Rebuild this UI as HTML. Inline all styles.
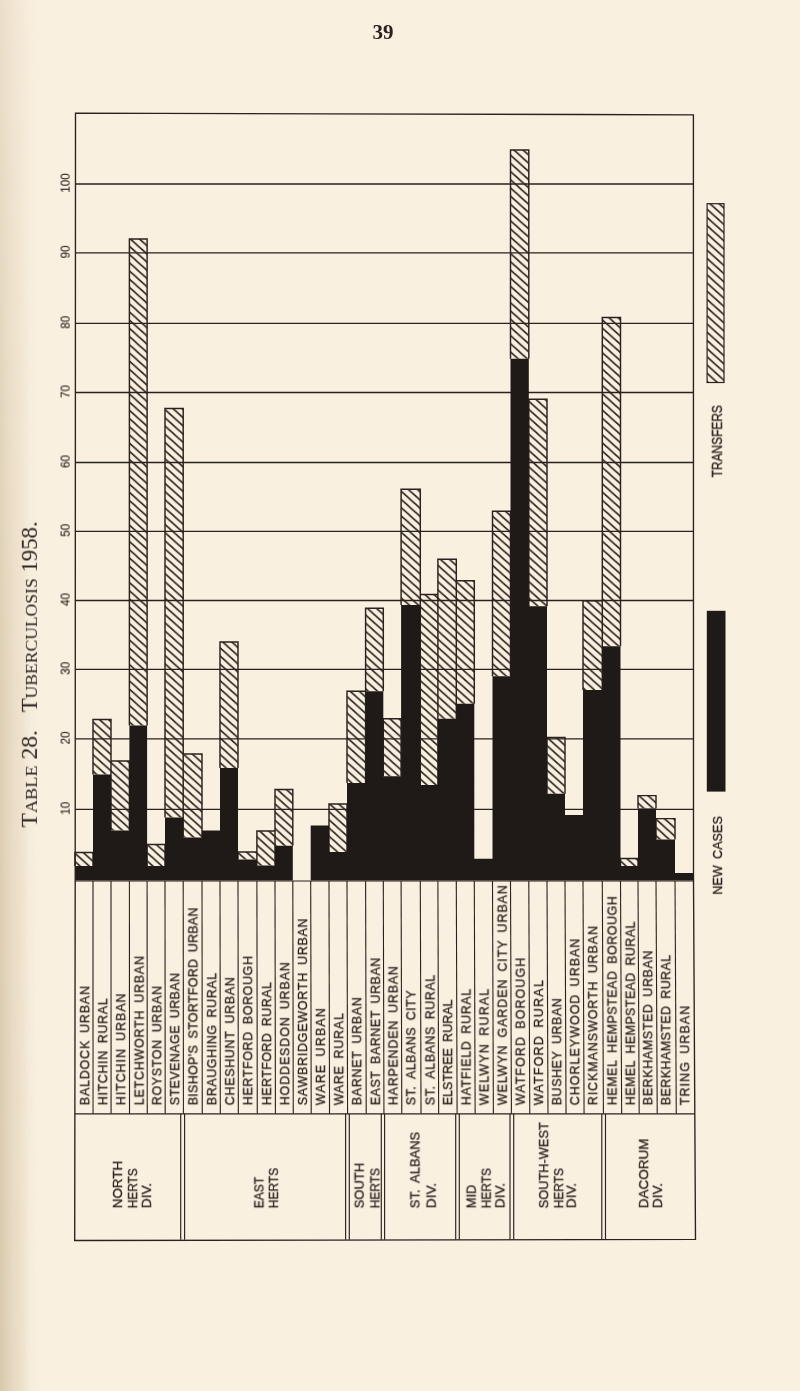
<!DOCTYPE html>
<html><head><meta charset="utf-8">
<style>
html,body{margin:0;padding:0;background:#f9f0e0;}
body{width:800px;height:1391px;overflow:hidden;}
svg{display:block;}
text{will-change:transform;}
.s{font-family:"Liberation Sans",sans-serif;stroke:#2a221e;stroke-width:0.3px;}
.r{font-family:"Liberation Serif",serif;}
</style></head><body>
<svg width="800" height="1391" viewBox="0 0 800 1391">
<defs>
<linearGradient id="edge" x1="0" x2="1" y1="0" y2="0">
<stop offset="0" stop-color="#d8c8ac"/>
<stop offset="0.3" stop-color="#e6d8c0"/>
<stop offset="0.6" stop-color="#efe3cf"/>
<stop offset="1" stop-color="#f9f0e0" stop-opacity="0"/>
</linearGradient>
<linearGradient id="vfade" x1="0" x2="0" y1="0" y2="1">
<stop offset="0" stop-color="#fff" stop-opacity="0.45"/>
<stop offset="0.5" stop-color="#fff" stop-opacity="0.85"/>
<stop offset="1" stop-color="#fff" stop-opacity="1"/>
</linearGradient>
<mask id="vm"><rect x="0" y="0" width="60" height="1391" fill="url(#vfade)"/></mask>
<pattern id="hatch" patternUnits="userSpaceOnUse" width="9.1" height="8.2" y="-1.5">
<path d="M-9.1,-8.2 L18.2,16.4 M-9.1,0 L9.1,16.4 M0,-8.2 L18.2,8.2" stroke="#2a221e" stroke-width="1.55" fill="none"/>
</pattern>
</defs>
<rect x="0" y="0" width="800" height="1391" fill="#f9f0e0"/>
<rect x="0" y="0" width="40" height="1391" fill="url(#edge)" mask="url(#vm)"/>

<text class="r" x="372.5" y="39" font-size="21" font-weight="bold" fill="#2a221e">39</text>
<g transform="translate(36.9,827.5) rotate(-90)" fill="#2a221e" class="r"><text x="0" y="0" font-size="22.3" textLength="97.5" lengthAdjust="spacingAndGlyphs">T<tspan font-size="17.2">ABLE</tspan> 28.</text><text x="115.2" y="0" font-size="22.3" textLength="191" lengthAdjust="spacingAndGlyphs">T<tspan font-size="17.2">UBERCULOSIS</tspan> 1958.</text></g>
<line x1="75.23" x2="693.49" y1="809.30" y2="809.30" stroke="#2a221e" stroke-width="1.3"/>
<text class="s" transform="translate(69.6,808.30) rotate(-90)" font-size="12" text-anchor="middle" fill="#2a221e" style="stroke-width:0.1px" textLength="13" lengthAdjust="spacingAndGlyphs">10</text>
<line x1="75.26" x2="693.48" y1="738.90" y2="738.90" stroke="#2a221e" stroke-width="1.3"/>
<text class="s" transform="translate(69.6,737.90) rotate(-90)" font-size="12" text-anchor="middle" fill="#2a221e" style="stroke-width:0.1px" textLength="13" lengthAdjust="spacingAndGlyphs">20</text>
<line x1="75.28" x2="693.47" y1="669.30" y2="669.30" stroke="#2a221e" stroke-width="1.3"/>
<text class="s" transform="translate(69.6,668.30) rotate(-90)" font-size="12" text-anchor="middle" fill="#2a221e" style="stroke-width:0.1px" textLength="13" lengthAdjust="spacingAndGlyphs">30</text>
<line x1="75.31" x2="693.46" y1="600.50" y2="600.50" stroke="#2a221e" stroke-width="1.3"/>
<text class="s" transform="translate(69.6,599.50) rotate(-90)" font-size="12" text-anchor="middle" fill="#2a221e" style="stroke-width:0.1px" textLength="13" lengthAdjust="spacingAndGlyphs">40</text>
<line x1="75.34" x2="693.45" y1="531.30" y2="531.30" stroke="#2a221e" stroke-width="1.3"/>
<text class="s" transform="translate(69.6,530.30) rotate(-90)" font-size="12" text-anchor="middle" fill="#2a221e" style="stroke-width:0.1px" textLength="13" lengthAdjust="spacingAndGlyphs">50</text>
<line x1="75.36" x2="693.45" y1="462.50" y2="462.50" stroke="#2a221e" stroke-width="1.3"/>
<text class="s" transform="translate(69.6,461.50) rotate(-90)" font-size="12" text-anchor="middle" fill="#2a221e" style="stroke-width:0.1px" textLength="13" lengthAdjust="spacingAndGlyphs">60</text>
<line x1="75.39" x2="693.44" y1="392.50" y2="392.50" stroke="#2a221e" stroke-width="1.3"/>
<text class="s" transform="translate(69.6,391.50) rotate(-90)" font-size="12" text-anchor="middle" fill="#2a221e" style="stroke-width:0.1px" textLength="13" lengthAdjust="spacingAndGlyphs">70</text>
<line x1="75.42" x2="693.43" y1="323.30" y2="323.30" stroke="#2a221e" stroke-width="1.3"/>
<text class="s" transform="translate(69.6,322.30) rotate(-90)" font-size="12" text-anchor="middle" fill="#2a221e" style="stroke-width:0.1px" textLength="13" lengthAdjust="spacingAndGlyphs">80</text>
<line x1="75.45" x2="693.42" y1="252.90" y2="252.90" stroke="#2a221e" stroke-width="1.3"/>
<text class="s" transform="translate(69.6,251.90) rotate(-90)" font-size="12" text-anchor="middle" fill="#2a221e" style="stroke-width:0.1px" textLength="13" lengthAdjust="spacingAndGlyphs">90</text>
<line x1="75.47" x2="693.41" y1="184.00" y2="184.00" stroke="#2a221e" stroke-width="1.3"/>
<text class="s" transform="translate(69.6,183.00) rotate(-90)" font-size="12" text-anchor="middle" fill="#2a221e" style="stroke-width:0.1px" textLength="19.4" lengthAdjust="spacingAndGlyphs">100</text>
<path d="M75.00,852.5H93.00V866H75.00Z M93.00,719.5H111.00V774.5H93.00Z M111.00,761H129.40V830.5H111.00Z M129.40,239H147.10V725.5H129.40Z M147.10,844.5H165.00V866H147.10Z M165.00,408.5H183.20V817.5H165.00Z M183.20,754H202.00V837.5H183.20Z M220.00,642H238.00V768H220.00Z M238.00,852H256.90V859.5H238.00Z M256.90,831H275.00V865.5H256.90Z M275.00,789.5H292.80V845.75H275.00Z M329.00,804H347.00V852H329.00Z M347.00,691.25H365.60V783H347.00Z M365.60,608.25H383.30V691.25H365.60Z M383.30,718.75H401.10V776.25H383.30Z M401.10,489.25H420.30V605H401.10Z M420.30,594.5H437.90V785H420.30Z M437.90,559.25H456.30V718.75H437.90Z M456.30,580.75H474.30V703.75H456.30Z M492.50,511.25H510.50V676.25H492.50Z M510.50,150H528.80V358.75H510.50Z M528.80,399.25H547.00V606.25H528.80Z M547.00,737.5H565.00V793.75H547.00Z M583.00,600.75H602.30V690H583.00Z M602.30,317.5H620.50V646.25H602.30Z M620.50,858.5H638.00V866H620.50Z M638.00,795.6H656.00V808.6H638.00Z M656.00,818.6H675.00V839.6H656.00Z" fill="url(#hatch)"/>
<path d="M75.00,866V852.5H93.00V866 M93.00,774.5V719.5H111.00V774.5 M111.00,830.5V761H129.40V830.5 M129.40,725.5V239H147.10V725.5 M147.10,866V844.5H165.00V866 M165.00,817.5V408.5H183.20V817.5 M183.20,837.5V754H202.00V837.5 M220.00,768V642H238.00V768 M238.00,859.5V852H256.90V859.5 M256.90,865.5V831H275.00V865.5 M275.00,845.75V789.5H292.80V845.75 M329.00,852V804H347.00V852 M347.00,783V691.25H365.60V783 M365.60,691.25V608.25H383.30V691.25 M383.30,776.25V718.75H401.10V776.25 M401.10,605V489.25H420.30V605 M420.30,785V594.5H437.90V785 M437.90,718.75V559.25H456.30V718.75 M456.30,703.75V580.75H474.30V703.75 M492.50,676.25V511.25H510.50V676.25 M510.50,358.75V150H528.80V358.75 M528.80,606.25V399.25H547.00V606.25 M547.00,793.75V737.5H565.00V793.75 M583.00,690V600.75H602.30V690 M602.30,646.25V317.5H620.50V646.25 M620.50,866V858.5H638.00V866 M638.00,808.6V795.6H656.00V808.6 M656.00,839.6V818.6H675.00V839.6" stroke="#2a221e" stroke-width="1.45" fill="none"/>
<path d="M75.00,866H93.00V880.5H75.00Z M93.00,774.5H111.00V880.5H93.00Z M111.00,830.5H129.40V880.5H111.00Z M129.40,725.5H147.10V880.5H129.40Z M147.10,866H165.00V880.5H147.10Z M165.00,817.5H183.20V880.5H165.00Z M183.20,837.5H202.00V880.5H183.20Z M202.00,830.5H220.00V880.5H202.00Z M220.00,768H238.00V880.5H220.00Z M238.00,859.5H256.90V880.5H238.00Z M256.90,865.5H275.00V880.5H256.90Z M275.00,845.75H292.80V880.5H275.00Z M310.70,825.5H329.00V880.5H310.70Z M329.00,852H347.00V880.5H329.00Z M347.00,783H365.60V880.5H347.00Z M365.60,691.25H383.30V880.5H365.60Z M383.30,776.25H401.10V880.5H383.30Z M401.10,605H420.30V880.5H401.10Z M420.30,785H437.90V880.5H420.30Z M437.90,718.75H456.30V880.5H437.90Z M456.30,703.75H474.30V880.5H456.30Z M474.30,858.75H492.50V880.5H474.30Z M492.50,676.25H510.50V880.5H492.50Z M510.50,358.75H528.80V880.5H510.50Z M528.80,606.25H547.00V880.5H528.80Z M547.00,793.75H565.00V880.5H547.00Z M565.00,815H583.00V880.5H565.00Z M583.00,690H602.30V880.5H583.00Z M602.30,646.25H620.50V880.5H602.30Z M620.50,866H638.00V880.5H620.50Z M638.00,808.6H656.00V880.5H638.00Z M656.00,839.6H675.00V880.5H656.00Z M675.00,873H693.00V880.5H675.00Z" fill="#1f1a17"/>
<path d="M75.5,113.2 L693.4,114.8 L693.5,880 L695.5,1239.4 L74.7,1240.5 L75.2,880 Z" fill="none" stroke="#2a221e" stroke-width="1.35" stroke-linejoin="miter"/>
<line x1="75.20" x2="693.51" y1="881.0" y2="881.0" stroke="#2a221e" stroke-width="1.2"/>
<line x1="74.88" x2="694.80" y1="1113.8" y2="1113.8" stroke="#2a221e" stroke-width="1.2"/>
<line x1="93.00" x2="93.04" y1="881.0" y2="1113.8" stroke="#2a221e" stroke-width="1.1"/>
<line x1="111.00" x2="111.08" y1="881.0" y2="1113.8" stroke="#2a221e" stroke-width="1.1"/>
<line x1="129.40" x2="129.51" y1="881.0" y2="1113.8" stroke="#2a221e" stroke-width="1.1"/>
<line x1="147.10" x2="147.25" y1="881.0" y2="1113.8" stroke="#2a221e" stroke-width="1.1"/>
<line x1="165.00" x2="165.19" y1="881.0" y2="1113.8" stroke="#2a221e" stroke-width="1.1"/>
<line x1="183.20" x2="183.43" y1="881.0" y2="1113.8" stroke="#2a221e" stroke-width="1.1"/>
<line x1="202.00" x2="202.27" y1="881.0" y2="1113.8" stroke="#2a221e" stroke-width="1.1"/>
<line x1="220.00" x2="220.31" y1="881.0" y2="1113.8" stroke="#2a221e" stroke-width="1.1"/>
<line x1="238.00" x2="238.34" y1="881.0" y2="1113.8" stroke="#2a221e" stroke-width="1.1"/>
<line x1="256.90" x2="257.28" y1="881.0" y2="1113.8" stroke="#2a221e" stroke-width="1.1"/>
<line x1="275.00" x2="275.42" y1="881.0" y2="1113.8" stroke="#2a221e" stroke-width="1.1"/>
<line x1="292.80" x2="293.26" y1="881.0" y2="1113.8" stroke="#2a221e" stroke-width="1.1"/>
<line x1="310.70" x2="311.20" y1="881.0" y2="1113.8" stroke="#2a221e" stroke-width="1.1"/>
<line x1="329.00" x2="329.53" y1="881.0" y2="1113.8" stroke="#2a221e" stroke-width="1.1"/>
<line x1="347.00" x2="347.57" y1="881.0" y2="1113.8" stroke="#2a221e" stroke-width="1.1"/>
<line x1="365.60" x2="366.21" y1="881.0" y2="1113.8" stroke="#2a221e" stroke-width="1.1"/>
<line x1="383.30" x2="383.95" y1="881.0" y2="1113.8" stroke="#2a221e" stroke-width="1.1"/>
<line x1="401.10" x2="401.79" y1="881.0" y2="1113.8" stroke="#2a221e" stroke-width="1.1"/>
<line x1="420.30" x2="421.03" y1="881.0" y2="1113.8" stroke="#2a221e" stroke-width="1.1"/>
<line x1="437.90" x2="438.66" y1="881.0" y2="1113.8" stroke="#2a221e" stroke-width="1.1"/>
<line x1="456.30" x2="457.10" y1="881.0" y2="1113.8" stroke="#2a221e" stroke-width="1.1"/>
<line x1="474.30" x2="475.14" y1="881.0" y2="1113.8" stroke="#2a221e" stroke-width="1.1"/>
<line x1="492.50" x2="493.38" y1="881.0" y2="1113.8" stroke="#2a221e" stroke-width="1.1"/>
<line x1="510.50" x2="511.42" y1="881.0" y2="1113.8" stroke="#2a221e" stroke-width="1.1"/>
<line x1="528.80" x2="529.76" y1="881.0" y2="1113.8" stroke="#2a221e" stroke-width="1.1"/>
<line x1="547.00" x2="547.99" y1="881.0" y2="1113.8" stroke="#2a221e" stroke-width="1.1"/>
<line x1="565.00" x2="566.03" y1="881.0" y2="1113.8" stroke="#2a221e" stroke-width="1.1"/>
<line x1="583.00" x2="584.07" y1="881.0" y2="1113.8" stroke="#2a221e" stroke-width="1.1"/>
<line x1="602.30" x2="603.41" y1="881.0" y2="1113.8" stroke="#2a221e" stroke-width="1.1"/>
<line x1="620.50" x2="621.65" y1="881.0" y2="1113.8" stroke="#2a221e" stroke-width="1.1"/>
<line x1="638.01" x2="639.19" y1="881.0" y2="1113.8" stroke="#2a221e" stroke-width="1.1"/>
<line x1="656.01" x2="657.22" y1="881.0" y2="1113.8" stroke="#2a221e" stroke-width="1.1"/>
<line x1="675.01" x2="676.26" y1="881.0" y2="1113.8" stroke="#2a221e" stroke-width="1.1"/>
<line x1="180.70" x2="180.70" y1="1113.8" y2="1239.8" stroke="#2a221e" stroke-width="1.15"/>
<line x1="184.60" x2="184.60" y1="1113.8" y2="1239.8" stroke="#2a221e" stroke-width="1.15"/>
<line x1="345.60" x2="345.60" y1="1113.8" y2="1239.8" stroke="#2a221e" stroke-width="1.15"/>
<line x1="349.30" x2="349.30" y1="1113.8" y2="1239.8" stroke="#2a221e" stroke-width="1.15"/>
<line x1="381.30" x2="381.30" y1="1113.8" y2="1239.8" stroke="#2a221e" stroke-width="1.15"/>
<line x1="384.60" x2="384.60" y1="1113.8" y2="1239.8" stroke="#2a221e" stroke-width="1.15"/>
<line x1="455.70" x2="455.70" y1="1113.8" y2="1239.8" stroke="#2a221e" stroke-width="1.15"/>
<line x1="459.30" x2="459.30" y1="1113.8" y2="1239.8" stroke="#2a221e" stroke-width="1.15"/>
<line x1="510.00" x2="510.00" y1="1113.8" y2="1239.8" stroke="#2a221e" stroke-width="1.15"/>
<line x1="513.70" x2="513.70" y1="1113.8" y2="1239.8" stroke="#2a221e" stroke-width="1.15"/>
<line x1="601.80" x2="601.80" y1="1113.8" y2="1239.8" stroke="#2a221e" stroke-width="1.15"/>
<line x1="605.50" x2="605.50" y1="1113.8" y2="1239.8" stroke="#2a221e" stroke-width="1.15"/>
<text class="s" transform="translate(89.20,1105.3) rotate(-90)" font-size="12.5" fill="#2a221e" textLength="119.2" lengthAdjust="spacing">BALDOCK URBAN</text>
<text class="s" transform="translate(107.20,1105.3) rotate(-90)" font-size="12.5" fill="#2a221e" textLength="106.9" lengthAdjust="spacing">HITCHIN RURAL</text>
<text class="s" transform="translate(125.20,1105.3) rotate(-90)" font-size="12.5" fill="#2a221e" textLength="111.7" lengthAdjust="spacing">HITCHIN URBAN</text>
<text class="s" transform="translate(143.60,1105.3) rotate(-90)" font-size="12.5" fill="#2a221e" textLength="149.2" lengthAdjust="spacing">LETCHWORTH URBAN</text>
<text class="s" transform="translate(161.30,1105.3) rotate(-90)" font-size="12.5" fill="#2a221e" textLength="119.2" lengthAdjust="spacing">ROYSTON URBAN</text>
<text class="s" transform="translate(179.20,1105.3) rotate(-90)" font-size="12.5" fill="#2a221e" textLength="132.4" lengthAdjust="spacing">STEVENAGE URBAN</text>
<text class="s" transform="translate(197.40,1105.3) rotate(-90)" font-size="12.5" fill="#2a221e" textLength="197.7" lengthAdjust="spacing">BISHOP’S STORTFORD URBAN</text>
<text class="s" transform="translate(216.20,1105.3) rotate(-90)" font-size="12.5" fill="#2a221e" textLength="132.4" lengthAdjust="spacing">BRAUGHING RURAL</text>
<text class="s" transform="translate(234.20,1105.3) rotate(-90)" font-size="12.5" fill="#2a221e" textLength="128.1" lengthAdjust="spacing">CHESHUNT URBAN</text>
<text class="s" transform="translate(252.20,1105.3) rotate(-90)" font-size="12.5" fill="#2a221e" textLength="149.2" lengthAdjust="spacing">HERTFORD BOROUGH</text>
<text class="s" transform="translate(271.10,1105.3) rotate(-90)" font-size="12.5" fill="#2a221e" textLength="123.1" lengthAdjust="spacing">HERTFORD RURAL</text>
<text class="s" transform="translate(289.20,1105.3) rotate(-90)" font-size="12.5" fill="#2a221e" textLength="143.1" lengthAdjust="spacing">HODDESDON URBAN</text>
<text class="s" transform="translate(307.00,1105.3) rotate(-90)" font-size="12.5" fill="#2a221e" textLength="186.9" lengthAdjust="spacing">SAWBRIDGEWORTH URBAN</text>
<text class="s" transform="translate(324.90,1105.3) rotate(-90)" font-size="12.5" fill="#2a221e" textLength="97.1" lengthAdjust="spacing">WARE URBAN</text>
<text class="s" transform="translate(343.20,1105.3) rotate(-90)" font-size="12.5" fill="#2a221e" textLength="92.1" lengthAdjust="spacing">WARE RURAL</text>
<text class="s" transform="translate(361.20,1105.3) rotate(-90)" font-size="12.5" fill="#2a221e" textLength="108.1" lengthAdjust="spacing">BARNET URBAN</text>
<text class="s" transform="translate(379.80,1105.3) rotate(-90)" font-size="12.5" fill="#2a221e" textLength="147.5" lengthAdjust="spacing">EAST BARNET URBAN</text>
<text class="s" transform="translate(397.50,1105.3) rotate(-90)" font-size="12.5" fill="#2a221e" textLength="139.1" lengthAdjust="spacing">HARPENDEN URBAN</text>
<text class="s" transform="translate(415.30,1105.3) rotate(-90)" font-size="12.5" fill="#2a221e" textLength="114.8" lengthAdjust="spacing">ST. ALBANS CITY</text>
<text class="s" transform="translate(434.50,1105.3) rotate(-90)" font-size="12.5" fill="#2a221e" textLength="130.5" lengthAdjust="spacing">ST. ALBANS RURAL</text>
<text class="s" transform="translate(452.10,1105.3) rotate(-90)" font-size="12.5" fill="#2a221e" textLength="105.8" lengthAdjust="spacing">ELSTREE RURAL</text>
<text class="s" transform="translate(470.50,1105.3) rotate(-90)" font-size="12.5" fill="#2a221e" textLength="116.5" lengthAdjust="spacing">HATFIELD RURAL</text>
<text class="s" transform="translate(488.50,1105.3) rotate(-90)" font-size="12.5" fill="#2a221e" textLength="116.5" lengthAdjust="spacing">WELWYN RURAL</text>
<text class="s" transform="translate(506.70,1105.3) rotate(-90)" font-size="12.5" fill="#2a221e" textLength="220.1" lengthAdjust="spacing">WELWYN GARDEN CITY URBAN</text>
<text class="s" transform="translate(524.70,1105.3) rotate(-90)" font-size="12.5" fill="#2a221e" textLength="147.5" lengthAdjust="spacing">WATFORD BOROUGH</text>
<text class="s" transform="translate(543.00,1105.3) rotate(-90)" font-size="12.5" fill="#2a221e" textLength="125.1" lengthAdjust="spacing">WATFORD RURAL</text>
<text class="s" transform="translate(561.20,1105.3) rotate(-90)" font-size="12.5" fill="#2a221e" textLength="107.1" lengthAdjust="spacing">BUSHEY URBAN</text>
<text class="s" transform="translate(579.20,1105.3) rotate(-90)" font-size="12.5" fill="#2a221e" textLength="166.6" lengthAdjust="spacing">CHORLEYWOOD URBAN</text>
<text class="s" transform="translate(597.20,1105.3) rotate(-90)" font-size="12.5" fill="#2a221e" textLength="179.3" lengthAdjust="spacing">RICKMANSWORTH URBAN</text>
<text class="s" transform="translate(616.50,1105.3) rotate(-90)" font-size="12.5" fill="#2a221e" textLength="209.1" lengthAdjust="spacing">HEMEL HEMPSTEAD BOROUGH</text>
<text class="s" transform="translate(634.70,1105.3) rotate(-90)" font-size="12.5" fill="#2a221e" textLength="183.6" lengthAdjust="spacing">HEMEL HEMPSTEAD RURAL</text>
<text class="s" transform="translate(652.20,1105.3) rotate(-90)" font-size="12.5" fill="#2a221e" textLength="154.7" lengthAdjust="spacing">BERKHAMSTED URBAN</text>
<text class="s" transform="translate(670.20,1105.3) rotate(-90)" font-size="12.5" fill="#2a221e" textLength="150.5" lengthAdjust="spacing">BERKHAMSTED RURAL</text>
<text class="s" transform="translate(689.20,1105.3) rotate(-90)" font-size="12.5" fill="#2a221e" textLength="99.5" lengthAdjust="spacing">TRING URBAN</text>
<text class="s" transform="translate(122.00,1208.3) rotate(-90)" font-size="12.9" fill="#2a221e" textLength="47.3" lengthAdjust="spacingAndGlyphs">NORTH</text>
<text class="s" transform="translate(137.10,1208.3) rotate(-90)" font-size="12.9" fill="#2a221e" textLength="39.9" lengthAdjust="spacingAndGlyphs">HERTS</text>
<text class="s" transform="translate(150.90,1208.3) rotate(-90)" font-size="12.9" fill="#2a221e" textLength="25.4" lengthAdjust="spacingAndGlyphs">DIV.</text>
<text class="s" transform="translate(263.40,1208.3) rotate(-90)" font-size="12.9" fill="#2a221e" textLength="31.2" lengthAdjust="spacingAndGlyphs">EAST</text>
<text class="s" transform="translate(277.90,1208.3) rotate(-90)" font-size="12.9" fill="#2a221e" textLength="40.4" lengthAdjust="spacingAndGlyphs">HERTS</text>
<text class="s" transform="translate(363.65,1208.3) rotate(-90)" font-size="12.9" fill="#2a221e" textLength="45.25" lengthAdjust="spacingAndGlyphs">SOUTH</text>
<text class="s" transform="translate(379.40,1208.3) rotate(-90)" font-size="12.9" fill="#2a221e" textLength="40.25" lengthAdjust="spacingAndGlyphs">HERTS</text>
<text class="s" transform="translate(419.40,1208.3) rotate(-90)" font-size="12.9" fill="#2a221e" textLength="76.5" lengthAdjust="spacingAndGlyphs">ST. ALBANS</text>
<text class="s" transform="translate(435.65,1208.3) rotate(-90)" font-size="12.9" fill="#2a221e" textLength="25.4" lengthAdjust="spacingAndGlyphs">DIV.</text>
<text class="s" transform="translate(475.65,1208.3) rotate(-90)" font-size="12.9" fill="#2a221e">MID</text>
<text class="s" transform="translate(490.65,1208.3) rotate(-90)" font-size="12.9" fill="#2a221e" textLength="40.2" lengthAdjust="spacingAndGlyphs">HERTS</text>
<text class="s" transform="translate(504.40,1208.3) rotate(-90)" font-size="12.9" fill="#2a221e" textLength="25.4" lengthAdjust="spacingAndGlyphs">DIV.</text>
<text class="s" transform="translate(548.15,1208.3) rotate(-90)" font-size="12.9" fill="#2a221e" textLength="86" lengthAdjust="spacingAndGlyphs">SOUTH-WEST</text>
<text class="s" transform="translate(563.15,1208.3) rotate(-90)" font-size="12.9" fill="#2a221e" textLength="40.2" lengthAdjust="spacingAndGlyphs">HERTS</text>
<text class="s" transform="translate(575.65,1208.3) rotate(-90)" font-size="12.9" fill="#2a221e" textLength="25.4" lengthAdjust="spacingAndGlyphs">DIV.</text>
<text class="s" transform="translate(648.15,1208.3) rotate(-90)" font-size="12.9" fill="#2a221e" textLength="69.75" lengthAdjust="spacingAndGlyphs">DACORUM</text>
<text class="s" transform="translate(661.90,1208.3) rotate(-90)" font-size="12.9" fill="#2a221e" textLength="25.4" lengthAdjust="spacingAndGlyphs">DIV.</text>
<rect x="707.1" y="203.7" width="16.9" height="178.8" fill="url(#hatch)" stroke="#2a221e" stroke-width="1.2"/>
<text class="s" transform="translate(721.9,477.4) rotate(-90)" font-size="13.8" fill="#2a221e" textLength="72.3" lengthAdjust="spacingAndGlyphs">TRANSFERS</text>
<rect x="706.8" y="610.8" width="18.7" height="180.8" fill="#1f1a17"/>
<text class="s" transform="translate(722,894.7) rotate(-90)" font-size="13.3" fill="#2a221e" textLength="78.6" lengthAdjust="spacingAndGlyphs">NEW&#x2002;CASES</text>
</svg></body></html>
